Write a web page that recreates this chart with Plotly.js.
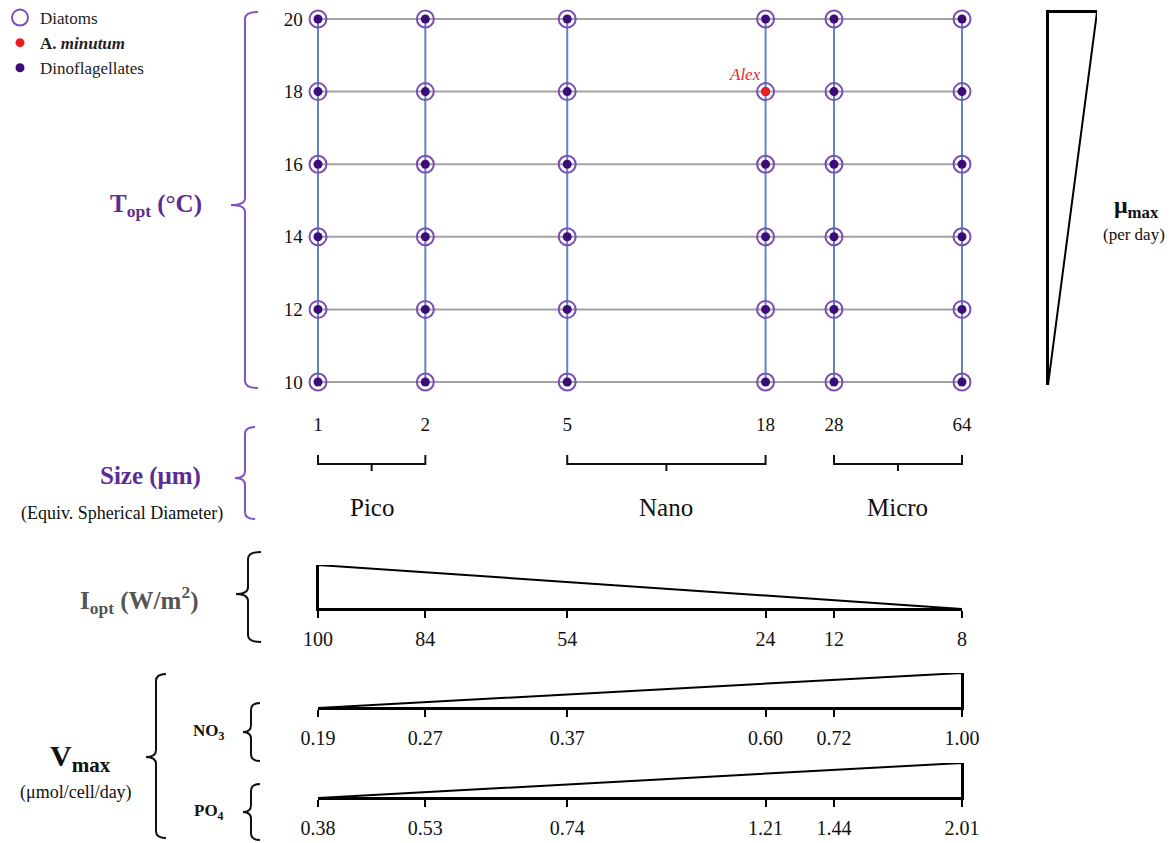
<!DOCTYPE html>
<html>
<head>
<meta charset="utf-8">
<script src="https://cdn.plot.ly/plotly-3.0.1.min.js"></script>
<style>html,body{margin:0;padding:0;background:#fff;}#chart{width:1172px;height:843px;}</style>
</head>
<body>
<div id="chart"></div>
<script>
// ---------------- data ----------------
const sizes = [1, 2, 5, 18, 28, 64];                 // equivalent spherical diameter (µm)
const sizeLabels = ['1', '2', '5', '18', '28', '64'];
const topt = [10, 12, 14, 16, 18, 20];               // optimal temperature (°C)
const muMax = ['1.09', '1.24', '1.40', '1.59', '1.80', '2.05']; // per day
const iopt = ['100', '84', '54', '24', '12', '8'];  // W/m2
const vmaxNO3 = ['0.19', '0.27', '0.37', '0.60', '0.72', '1.00'];
const vmaxPO4 = ['0.38', '0.53', '0.74', '1.21', '1.44', '2.01'];
const sizeClasses = ['Pico', 'Nano', 'Micro'];
const classLo = [1, 5, 28];
const classHi = [2, 18, 64];
const alexSize = [18];
const alexTopt = [18];

// ---------------- helpers ----------------
const W = 1172, H = 843;
const px = x => x / W;
const py = y => 1 - y / H;
const FONT = 'Liberation Serif, Times New Roman, serif';
const PURPLE = '#5b2d93';
const BRACE_PURPLE = '#7d55bb';
const num = a => a.map(Number);
const first = a => a[0], last = a => a[a.length - 1];

const lmin = Math.log10(first(sizes)), lmax = Math.log10(last(sizes));
const xPad = 0.04;

// grid lines
const hx = [], hy = [], vx = [], vy = [];
topt.forEach(t => { hx.push(first(sizes), last(sizes), null); hy.push(t, t, null); });
sizes.forEach(s => { vx.push(s, s, null); vy.push(first(topt), last(topt), null); });

// all grid points
const gx = [], gy = [];
sizes.forEach(s => topt.forEach(t => { gx.push(s); gy.push(t); }));

const traces = [];
traces.push({x: hx, y: hy, mode: 'lines', line: {color: '#a3a3a3', width: 2}, hoverinfo: 'skip', showlegend: false});
traces.push({x: vx, y: vy, mode: 'lines', line: {color: '#5d86c6', width: 2}, hoverinfo: 'skip', showlegend: false});
traces.push({x: gx, y: gy, mode: 'markers', name: 'Diatoms', legendrank: 1,
  marker: {symbol: 'circle-open', size: 17, color: '#7b4db8', line: {width: 2}}, cliponaxis: false});
traces.push({x: gx, y: gy, mode: 'markers', name: 'Dinoflagellates', legendrank: 3,
  marker: {symbol: 'circle', size: 9, color: '#3d0b7a'}, cliponaxis: false});
traces.push({x: alexSize, y: alexTopt, mode: 'markers', name: '<b>A. <i>minutum</i></b>', legendrank: 2,
  marker: {symbol: 'circle', size: 9, color: '#ee1c1c'}, cliponaxis: false});

// µmax triangle (right)
const mu = num(muMax);
traces.push({x: [first(mu), last(mu), first(mu), first(mu)], y: [first(topt), last(topt), last(topt), first(topt)],
  xaxis: 'x5', yaxis: 'y7', mode: 'lines', line: {color: '#000', width: 2}, showlegend: false, hoverinfo: 'skip'});

// size-class brackets
sizeClasses.forEach((c, i) => {
  const gm = Math.sqrt(classLo[i] * classHi[i]);
  traces.push({x: [classLo[i], classLo[i], gm, gm, gm, classHi[i], classHi[i]], y: [9, 0, 0, -7, 0, 0, 9],
    xaxis: 'x', yaxis: 'y8', mode: 'lines', line: {color: '#111', width: 2}, showlegend: false, hoverinfo: 'skip'});
});

// Iopt triangle
const io = num(iopt);
traces.push({x: [first(sizes), first(sizes), last(sizes), first(sizes)], y: [last(io), first(io), last(io), last(io)],
  xaxis: 'x2', yaxis: 'y4', mode: 'lines', line: {color: '#000', width: 2}, showlegend: false, hoverinfo: 'skip'});
// NO3 triangle
const no3 = num(vmaxNO3);
traces.push({x: [first(sizes), last(sizes), last(sizes), first(sizes)], y: [first(no3), last(no3), first(no3), first(no3)],
  xaxis: 'x3', yaxis: 'y5', mode: 'lines', line: {color: '#000', width: 2}, showlegend: false, hoverinfo: 'skip'});
// PO4 triangle
const po4 = num(vmaxPO4);
traces.push({x: [first(sizes), last(sizes), last(sizes), first(sizes)], y: [first(po4), last(po4), first(po4), first(po4)],
  xaxis: 'x4', yaxis: 'y6', mode: 'lines', line: {color: '#000', width: 2}, showlegend: false, hoverinfo: 'skip'});

// ---------------- axes ----------------
const decPx = (962 - 318) / (lmax - lmin);
const tPx = (382 - 19) / (last(topt) - first(topt));
const tPad = 0.4;

const lowerX = (anchor, labels) => ({
  type: 'log', range: [lmin, lmax], domain: [px(318), px(962)], anchor: anchor,
  showline: true, linecolor: '#000', linewidth: 2, ticks: 'outside', ticklen: 7, tickwidth: 2, tickcolor: '#000',
  tickmode: 'array', tickvals: sizes, ticktext: labels, showgrid: false, zeroline: false,
  tickfont: {family: FONT, size: 20, color: '#111'}, ticklabelstandoff: 4
});
const lowerY = (anchor, vals, top, bot, side) => ({
  range: [Math.min(...vals), Math.max(...vals)], domain: [py(bot), py(top)], anchor: anchor, side: side,
  showline: true, linecolor: '#000', linewidth: 2, ticks: '', showticklabels: false, showgrid: false, zeroline: false
});

const layout = {
  width: W, height: H, margin: {l: 0, r: 0, t: 0, b: 0},
  paper_bgcolor: '#fff', plot_bgcolor: 'rgba(0,0,0,0)',
  font: {family: FONT, color: '#111'},
  showlegend: true,
  legend: {x: 0, y: 1.0, xanchor: 'left', yanchor: 'top', font: {family: FONT, size: 17, color: '#222'},
    bgcolor: 'rgba(0,0,0,0)', tracegroupgap: 0, itemwidth: 30},
  xaxis: {type: 'log', range: [lmin - xPad, lmax + xPad],
    domain: [px(318 - xPad * decPx), px(962 + xPad * decPx)], anchor: 'y',
    tickmode: 'array', tickvals: sizes, ticktext: sizeLabels, ticks: '', showgrid: false, zeroline: false, showline: false,
    tickfont: {family: FONT, size: 19, color: '#111'}, ticklabelstandoff: 14},
  yaxis: {range: [first(topt) - tPad, last(topt) + tPad],
    domain: [py(382 + tPad * tPx), py(19 - tPad * tPx)], anchor: 'x',
    tickmode: 'array', tickvals: topt, ticktext: topt.map(String), ticks: '', showgrid: false, zeroline: false, showline: false,
    tickfont: {family: FONT, size: 19, color: '#111'}, ticklabelstandoff: 0},
  yaxis2: {overlaying: 'y', side: 'right', anchor: 'x', range: [first(topt) - tPad, last(topt) + tPad],
    tickmode: 'array', tickvals: topt, ticktext: muMax, ticks: '', showgrid: false, zeroline: false, showline: false,
    tickfont: {family: FONT, size: 19, color: '#111'}, ticklabelstandoff: 4},
  xaxis2: lowerX('y4', iopt),
  xaxis3: lowerX('y5', vmaxNO3),
  xaxis4: lowerX('y6', vmaxPO4),
  yaxis4: lowerY('x2', io, 565, 609, 'left'),
  yaxis5: lowerY('x3', no3, 673, 708, 'right'),
  yaxis6: lowerY('x4', po4, 763, 798, 'right'),
  xaxis5: {range: [first(mu), last(mu)], domain: [px(1048), px(1097)], anchor: 'y7', side: 'top',
    showline: true, linecolor: '#000', linewidth: 2, ticks: '', showticklabels: false, showgrid: false, zeroline: false},
  yaxis7: {range: [first(topt), last(topt)], domain: [py(385), py(12)], anchor: 'x5', side: 'left',
    showline: true, linecolor: '#000', linewidth: 2, ticks: '', showticklabels: false, showgrid: false, zeroline: false},
  yaxis8: {range: [-8, 10], domain: [py(472), py(454)], anchor: 'x', visible: false},
  shapes: [],
  annotations: []
};

// "Alex" label attached to the A. minutum point
layout.annotations.push({x: Math.log10(alexSize[0]), y: alexTopt[0], xref: 'x', yref: 'y', text: '<i>Alex</i>',
  showarrow: false, xanchor: 'right', yanchor: 'bottom', xshift: -3, yshift: 6,
  font: {family: FONT, size: 17, color: '#e8262b'}});

// curly braces
function brace(x, yTop, yBot, yMid, hook, tip, color) {
  const r = 7;
  const P = (a, b) => px(a) + ',' + py(b);
  const path = 'M' + P(x + hook, yTop) +
    ' Q' + P(x, yTop) + ' ' + P(x, yTop + r) +
    ' L' + P(x, yMid - r) +
    ' Q' + P(x, yMid) + ' ' + P(x - tip, yMid) +
    ' Q' + P(x, yMid) + ' ' + P(x, yMid + r) +
    ' L' + P(x, yBot - r) +
    ' Q' + P(x, yBot) + ' ' + P(x + hook, yBot);
  layout.shapes.push({type: 'path', xref: 'paper', yref: 'paper', path: path, line: {color: color, width: 2}});
}
brace(245, 12, 388, 205, 13, 14, BRACE_PURPLE);
brace(245, 427, 519, 478, 10, 10, BRACE_PURPLE);
brace(248, 552, 642, 594, 13, 12, '#111');
brace(156, 674, 838, 757, 10, 10, '#111');
brace(251, 703, 761, 732, 9, 8, '#111');
brace(251, 784, 840, 812, 9, 8, '#111');

// size-class labels
sizeClasses.forEach((c, i) => {
  layout.annotations.push({x: Math.log10(Math.sqrt(classLo[i] * classHi[i])), xref: 'x', y: py(508), yref: 'paper',
    text: c, showarrow: false, xanchor: 'center', yanchor: 'middle', font: {family: FONT, size: 25, color: '#111'}});
});

// text labels
const lab = (text, x, y, size, color) => layout.annotations.push({x: px(x), y: py(y), xref: 'paper', yref: 'paper',
  text: text, showarrow: false, xanchor: 'center', yanchor: 'middle', font: {family: FONT, size: size, color: color}});
lab('<b>T<sub>opt</sub> (°C)</b>', 156, 205, 25, PURPLE);
lab('<b>Size (μm)</b>', 150, 476, 25, PURPLE);
lab('(Equiv. Spherical Diameter)', 122, 513, 18, '#111');
lab('<b>I<sub>opt</sub> (W/m<sup>2</sup>)</b>', 139, 600, 25, '#555');
lab('<b>V<sub>max</sub></b>', 80, 758, 30, '#111');
lab('(μmol/cell/day)', 76, 792, 18, '#111');
lab('<b>NO<sub>3</sub></b>', 209, 732, 17, '#111');
lab('<b>PO<sub>4</sub></b>', 209, 812, 17, '#111');
lab('<b>μ<sub>max</sub></b>', 1136, 207, 24, '#111');
lab('(per day)', 1134, 234, 17, '#111');

Plotly.newPlot('chart', traces, layout, {staticPlot: true, displayModeBar: false});
</script>
</body>
</html>
